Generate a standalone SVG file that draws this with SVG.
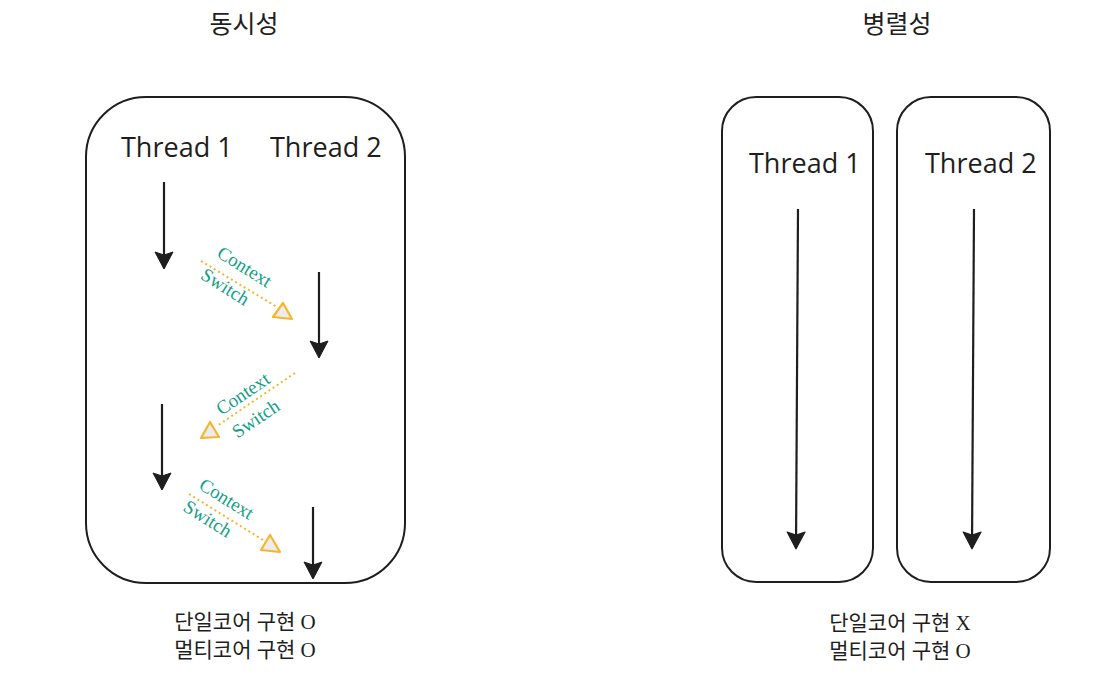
<svg xmlns="http://www.w3.org/2000/svg" width="1107" height="680" viewBox="0 0 1107 680">
<style>
.box{fill:none;stroke:#1e1e1e;stroke-width:2}
.arr{fill:none;stroke:#1e1e1e;stroke-width:2.2}
.dot{fill:none;stroke:#f7b52c;stroke-width:2;stroke-dasharray:2 3}
.tri{fill:#ececec;stroke:#f7b52c;stroke-width:2.2;stroke-linejoin:round}
.title{font-family:"Noto Sans CJK KR","Noto Sans",sans-serif;font-size:25px;fill:#1e1e1e;text-anchor:middle}
.th{font-family:"Open Sans","Noto Sans",sans-serif;font-size:27px;fill:#1e1e1e}
.cs{font-family:"Liberation Serif","DejaVu Serif",serif;font-size:19px;fill:#12a085;text-anchor:middle}
.note{font-family:"Liberation Serif","Noto Sans CJK KR",serif;font-size:21px;fill:#1e1e1e;text-anchor:middle}
</style>
<defs>
<marker id="ah" markerUnits="userSpaceOnUse" markerWidth="24" markerHeight="24" viewBox="-20 -12 24 24" refX="0" refY="0" orient="auto">
<path d="M1,0 L-16,-9 L-13,0 L-16,9 Z" fill="#1e1e1e" stroke="#1e1e1e" stroke-width="1" stroke-linejoin="round"/>
</marker>
</defs>
<rect width="1107" height="680" fill="#ffffff"/>

<g id="title-concurrency"><text class="title" x="244" y="33">동시성</text></g>
<g id="title-parallelism"><text class="title" x="897" y="33">병렬성</text></g>

<g id="concurrency-box">
<rect class="box" x="86" y="97" width="319" height="486" rx="60" ry="60"/>
<text class="th" x="121" y="157">Thread 1</text>
<text class="th" x="270" y="157">Thread 2</text>
</g>

<g id="parallel-thread1">
<rect class="box" x="722" y="97" width="151" height="485" rx="34" ry="34"/>
<text class="th" x="749" y="173">Thread 1</text>
</g>
<g id="parallel-thread2">
<rect class="box" x="897" y="97" width="153" height="485" rx="34" ry="34"/>
<text class="th" x="925" y="173">Thread 2</text>
</g>

<g id="connectors">
<line class="arr" x1="164" y1="182" x2="164" y2="268" marker-end="url(#ah)"/>
<line class="arr" x1="319" y1="272" x2="319" y2="357" marker-end="url(#ah)"/>
<line class="arr" x1="162" y1="404" x2="162" y2="489" marker-end="url(#ah)"/>
<line class="arr" x1="313" y1="507" x2="313" y2="578" marker-end="url(#ah)"/>
<line class="arr" x1="798" y1="209" x2="796" y2="548" marker-end="url(#ah)"/>
<line class="arr" x1="974" y1="209" x2="972" y2="548" marker-end="url(#ah)"/>

<line class="dot" x1="201" y1="261" x2="277" y2="307"/>
<polygon class="tri" points="283,303 273,317 292,319"/>
<line class="dot" x1="295" y1="373" x2="217" y2="426"/>
<polygon class="tri" points="210,422 201,438 219,437"/>
<line class="dot" x1="189" y1="494" x2="263" y2="540"/>
<polygon class="tri" points="270,535 261,550 280,552"/>
</g>

<g id="cs-label-1">
<text class="cs" transform="translate(244.5,267) rotate(32)" x="0" y="6">Context</text>
<text class="cs" transform="translate(225,287) rotate(32)" x="0" y="6">Switch</text>
</g>
<g id="cs-label-2">
<text class="cs" transform="translate(243,394) rotate(-34)" x="0" y="6">Context</text>
<text class="cs" transform="translate(256,419) rotate(-34)" x="0" y="6">Switch</text>
</g>
<g id="cs-label-3">
<text class="cs" transform="translate(226.5,499) rotate(32)" x="0" y="6">Context</text>
<text class="cs" transform="translate(207.5,519) rotate(32)" x="0" y="6">Switch</text>
</g>

<g id="note-concurrency">
<text class="note" x="245" y="629">단일코어 구현 O</text>
<text class="note" x="245" y="657">멀티코어 구현 O</text>
</g>
<g id="note-parallelism">
<text class="note" x="900" y="630">단일코어 구현 X</text>
<text class="note" x="900" y="658">멀티코어 구현 O</text>
</g>
</svg>
